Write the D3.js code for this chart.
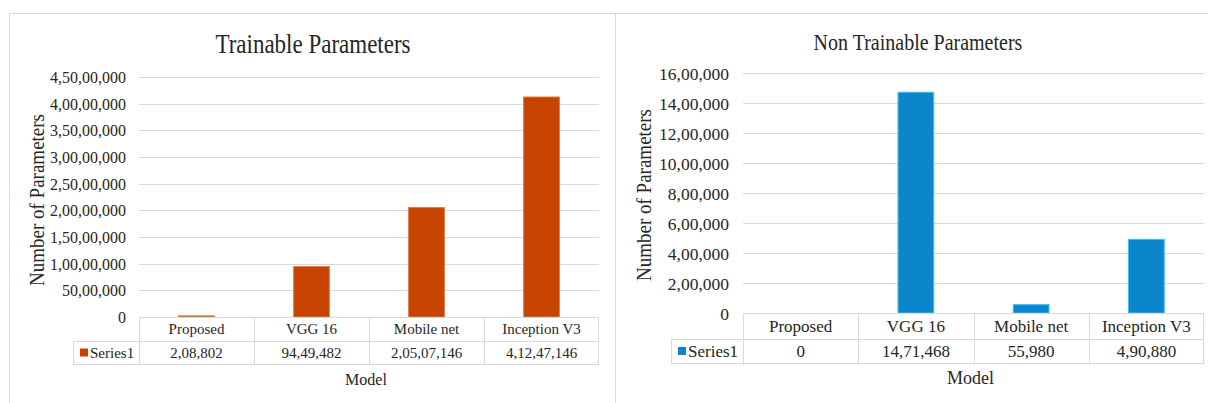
<!DOCTYPE html>
<html>
<head>
<meta charset="utf-8">
<script src="https://cdn.jsdelivr.net/npm/d3@7"></script>
<style>
  html, body { margin: 0; padding: 0; background: #ffffff; }
  svg { display: block; }
  svg text { font-family: 'Liberation Serif', 'Tinos', 'Times New Roman', 'DejaVu Serif', serif !important; fill: #262626; }
</style>
</head>
<body>
<svg id="chart" width="1208" height="403"></svg>
<script>
const categories = ["Proposed", "VGG 16", "Mobile net", "Inception V3"];
const trainableValues = [208802, 9449482, 20507146, 41247146];
const nonTrainableValues = [0, 1471468, 55980, 490880];
const trainableTicks = [0, 5000000, 10000000, 15000000, 20000000, 25000000, 30000000, 35000000, 40000000, 45000000];
const nonTrainableTicks = [0, 200000, 400000, 600000, 800000, 1000000, 1200000, 1400000, 1600000];
const seriesName = "Series1";

const FONT = "'Liberation Serif', 'Tinos', 'Times New Roman', 'DejaVu Serif', serif";

function indian(n) {
  const s = String(Math.round(n));
  if (s.length <= 3) return s;
  const last3 = s.slice(-3);
  const rest = s.slice(0, -3).replace(/\B(?=(\d{2})+(?!\d))/g, ",");
  return rest + "," + last3;
}

const svg = d3.select("#chart").style("font-family", FONT);
const grid = "#d9d9d9";

svg.append("line").attr("x1", 9).attr("x2", 1208).attr("y1", 13.5).attr("y2", 13.5)
  .attr("stroke", grid).attr("stroke-width", 1);
svg.append("line").attr("x1", 9.5).attr("x2", 9.5).attr("y1", 13).attr("y2", 403)
  .attr("stroke", grid).attr("stroke-width", 1);
svg.append("line").attr("x1", 615.5).attr("x2", 615.5).attr("y1", 13).attr("y2", 403)
  .attr("stroke", grid).attr("stroke-width", 1);

function drawChart(cfg) {
  const g = svg.append("g").style("font-family", FONT);
  const x = d3.scaleBand().domain(categories).range([cfg.x0, cfg.x1]).padding(0);
  const y = d3.scaleLinear().domain([0, cfg.max]).range([cfg.y0, cfg.yTop]);

  g.selectAll(".grid").data(cfg.ticks).join("line")
    .attr("x1", cfg.x0).attr("x2", cfg.x1)
    .attr("y1", d => Math.round(y(d)) + 0.5).attr("y2", d => Math.round(y(d)) + 0.5)
    .attr("stroke", grid).attr("stroke-width", 1);

  const axis = d3.axisLeft(y).tickValues(cfg.ticks).tickFormat(indian).tickSize(0).tickPadding(0);
  const ag = g.append("g").attr("transform", `translate(${cfg.tickRight},0)`).call(axis);
  ag.attr("font-family", null).style("font-family", FONT);
  ag.select(".domain").remove();
  ag.selectAll("text").attr("font-size", cfg.tickFont).style("font-family", FONT)
    .attr("fill", "#333").attr("dy", "0.35em");

  const bw = x.bandwidth() * 0.31;
  g.selectAll(".bar").data(cfg.values).join("rect")
    .attr("x", (d, i) => x(categories[i]) + (x.bandwidth() - bw) / 2)
    .attr("width", bw)
    .attr("y", d => y(d))
    .attr("height", d => y(0) - y(d))
    .attr("fill", cfg.color)
    .attr("stroke", cfg.stroke).attr("stroke-width", d => d > 0 ? 1 : 0);

  const rowMid = cfg.rowMid, rowBot = cfg.rowBot;
  const hl = (x1, x2, yy) => g.append("line").attr("x1", x1).attr("x2", x2)
    .attr("y1", yy + 0.5).attr("y2", yy + 0.5).attr("stroke", grid);
  const vl = (xx, y1, y2) => g.append("line").attr("x1", xx + 0.5).attr("x2", xx + 0.5)
    .attr("y1", y1).attr("y2", y2).attr("stroke", grid);
  hl(cfg.x0, cfg.x1, Math.round(y(0)));
  hl(cfg.legendX, cfg.x1, rowMid);
  hl(cfg.legendX, cfg.x1, rowBot);
  vl(cfg.legendX, rowMid, rowBot);
  categories.forEach(c => vl(Math.round(x(c)), Math.round(y(0)), rowBot));
  vl(Math.round(cfg.x1) - 1, Math.round(y(0)), rowBot);

  const y0 = y(0);
  g.selectAll(".cat").data(categories).join("text")
    .attr("x", d => x(d) + x.bandwidth() / 2)
    .attr("y", (y0 + rowMid) / 2)
    .attr("dy", "0.35em").attr("text-anchor", "middle")
    .attr("font-size", cfg.catFont).text(d => d);
  g.selectAll(".val").data(cfg.values).join("text")
    .attr("x", (d, i) => x(categories[i]) + x.bandwidth() / 2)
    .attr("y", (rowMid + rowBot) / 2)
    .attr("dy", "0.35em").attr("text-anchor", "middle")
    .attr("font-size", cfg.catFont).text(d => indian(d));

  g.append("rect").attr("x", cfg.legendX + 7).attr("y", (rowMid + rowBot) / 2 - 4)
    .attr("width", 8).attr("height", 8).attr("fill", cfg.color);
  g.append("text").attr("x", cfg.legendX + 17).attr("y", (rowMid + rowBot) / 2)
    .attr("dy", "0.35em").attr("font-size", cfg.catFont).text(seriesName);

  // title, slightly stretched vertically like the reference
  const k = 1.2;
  g.append("text").attr("x", cfg.titleX).attr("y", cfg.titleY)
    .attr("transform", `translate(0,${cfg.titleY * (1 - k)}) scale(1,${k})`)
    .attr("text-anchor", "middle").attr("font-size", cfg.titleFont).text(cfg.title);
  g.append("text").attr("x", (cfg.x0 + cfg.x1) / 2 - 3).attr("y", cfg.modelY)
    .attr("text-anchor", "middle").attr("font-size", cfg.catFont + 1).text("Model");
  g.append("text")
    .attr("transform", `translate(${cfg.yTitleX},${cfg.yTitleY}) rotate(-90) scale(1,1.1)`)
    .attr("text-anchor", "middle").attr("font-size", cfg.yTitleFont)
    .text("Number of Parameters");
}

drawChart({
  values: trainableValues, ticks: trainableTicks, max: 45000000,
  x0: 139, x1: 599, y0: 317, yTop: 77, tickRight: 126,
  rowMid: 341, rowBot: 364, legendX: 73,
  color: "#c64300", stroke: "#e0743a",
  tickFont: 16, catFont: 15, title: "Trainable Parameters", titleFont: 23,
  titleX: 313, titleY: 53, modelY: 385, yTitleX: 44, yTitleY: 200, yTitleFont: 19
});

drawChart({
  values: nonTrainableValues, ticks: nonTrainableTicks, max: 1600000,
  x0: 743, x1: 1204, y0: 313, yTop: 73, tickRight: 729,
  rowMid: 339, rowBot: 363, legendX: 671,
  color: "#0b85cc", stroke: "#3fc0f0",
  tickFont: 17.5, catFont: 17, title: "Non Trainable Parameters", titleFont: 20,
  titleX: 918, titleY: 50, modelY: 384, yTitleX: 651, yTitleY: 195, yTitleFont: 19
});
</script>
</body>
</html>
